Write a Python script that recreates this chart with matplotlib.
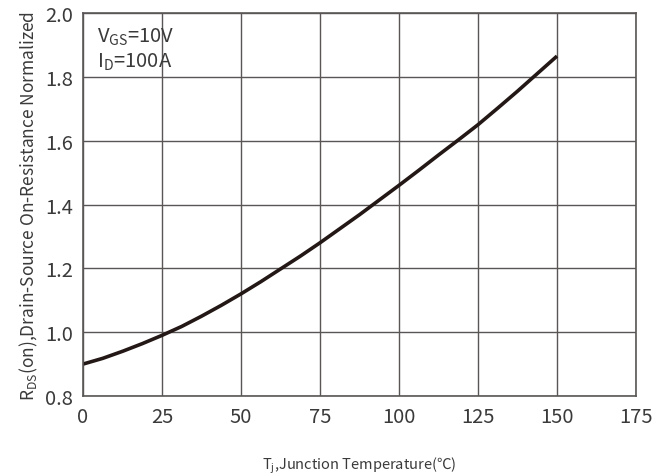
import numpy as np
import matplotlib
matplotlib.use("Agg")
from matplotlib import pyplot as plt

plt.rcParams['font.family'] = ['Noto Sans CJK SC', 'DejaVu Sans']
plt.rcParams['mathtext.fontset'] = 'custom'
plt.rcParams['mathtext.rm'] = 'Noto Sans CJK SC'

# values
temp = [0, 6.25, 12.5, 18.75, 25, 31.25, 37.5, 43.75, 50, 56.25, 62.5, 68.75,
        75, 81.25, 87.5, 93.75, 100, 106.25, 112.5, 118.75, 125, 131.25,
        137.5, 143.75, 150]
rds_norm = [0.900, 0.918, 0.940, 0.964, 0.990, 1.018, 1.050, 1.084, 1.120,
            1.158, 1.198, 1.238, 1.280, 1.324, 1.368, 1.414, 1.460, 1.507,
            1.555, 1.602, 1.650, 1.702, 1.755, 1.810, 1.865]

x_ticks = [0, 25, 50, 75, 100, 125, 150, 175]
y_ticks = [0.8, 1.0, 1.2, 1.4, 1.6, 1.8, 2.0]

grid_col = "#5a5656"
text_col = "#3a3a3a"

fig = plt.figure(figsize=(6.72, 4.77), dpi=100)
ax = fig.add_axes([83 / 672, 1 - 397 / 477, (636 - 83) / 672, (397 - 14) / 477])

ax.plot(temp, rds_norm, color="#231815", linewidth=2.6, solid_capstyle="butt")

ax.set_xlim(0, 175)
ax.set_ylim(0.8, 2.0)
ax.set_xticks(x_ticks)
ax.set_yticks(y_ticks)
ax.set_yticklabels([f"{v:.1f}" for v in y_ticks])
ax.tick_params(length=0, labelsize=14.5, colors=text_col, pad=7)
ax.grid(True, color=grid_col, linewidth=1.0)
for s in ax.spines.values():
    s.set_color(grid_col)
    s.set_linewidth(1.2)

ax.set_xlabel("T$_{\\mathregular{j}}$,Junction Temperature(℃)", fontsize=10.5,
              color=text_col, labelpad=20)
ax.set_ylabel("R$_{\\mathregular{DS}}$(on),Drain-Source On-Resistance Normalized",
              fontsize=12.5, color=text_col, labelpad=4)

ax.text(0.025, 0.94, "V$_{\\mathregular{GS}}$=10V", transform=ax.transAxes,
        fontsize=14.5, color=text_col, va="center")
ax.text(0.025, 0.875, "I$_{\\mathregular{D}}$=100A", transform=ax.transAxes,
        fontsize=14.5, color=text_col, va="center")

fig.savefig("out.png", dpi=100)
